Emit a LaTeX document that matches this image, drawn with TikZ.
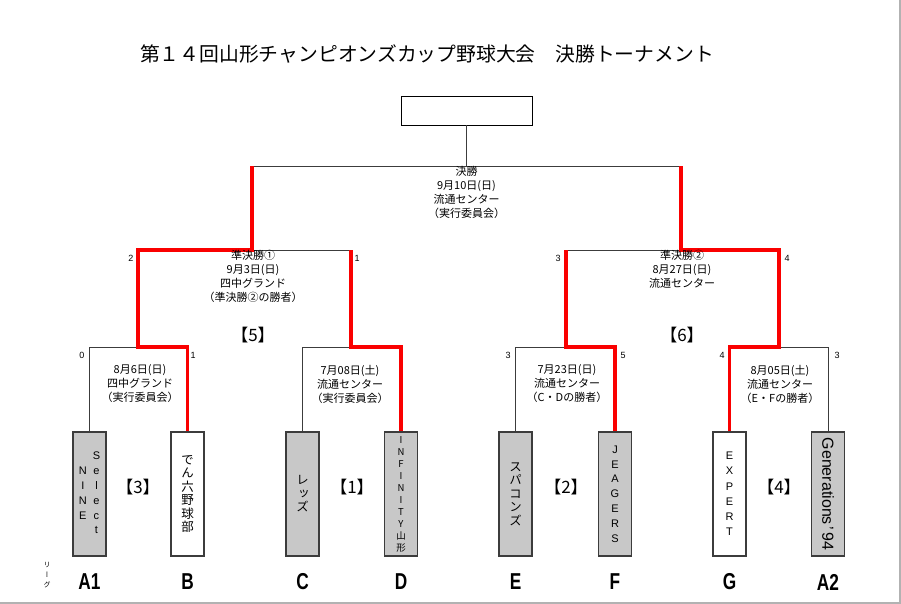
\documentclass[tikz,border=0pt]{standalone}
\usepackage{fontspec}
\usepackage{graphicx}
\setmainfont{Liberation Sans}
\newfontfamily\jp{Noto Sans CJK JP}
\newfontfamily\jpv[RawFeature=+vert]{Noto Sans CJK JP}% vertical forms
\usetikzlibrary{positioning}
\definecolor{winred}{RGB}{250,0,0}
\definecolor{boxgray}{RGB}{200,200,200}
\definecolor{linegray}{RGB}{60,60,60}
\tikzset{every node/.style={font=\jp\fontsize{11}{14}\selectfont, inner sep=0pt}}
\tikzset{
  team/.style={draw=linegray, line width=1.1pt, fill=white, minimum width=33pt,
    minimum height=124pt, align=center},
  teamg/.style={team, fill=boxgray},
  latin/.style={font=\fontsize{11}{14.8}\selectfont},
  tate/.style={font=\jpv\fontsize{12.5}{13.5}\selectfont},
  info/.style={align=center},
  score/.style={font=\fontsize{9}{9}\selectfont},
  pairlabel/.style={font=\jp\fontsize{17}{17}\selectfont},
  league/.style={font=\bfseries\fontsize{23}{23}\selectfont},
  bracket/.style={draw=linegray, line width=0.8pt},
  win/.style={draw=winred, line width=3.5pt}
}

\begin{document}
\begin{tikzpicture}[x=1pt,y=-1pt]
  \useasboundingbox (0,0) rectangle (901,604);
  \draw[gray!60, line width=1.5pt] (0,603) -- (900,603) -- (900,0);
  \node[font=\jp\fontsize{19.8}{20}\selectfont] (title) at (427,54)
    {第１４回山形チャンピオンズカップ野球大会　決勝トーナメント};
  \node[draw=black, line width=0.9pt, minimum width=131pt, minimum height=29pt]
    (champ) at (466.5,110.5) {};
  % teams
  \node[teamg, latin] (a1) at (89.5,494)
    {\begin{tabular}[c]{@{}c@{}}N\\I\\N\\E\end{tabular}\hspace{6pt}%
     \begin{tabular}[c]{@{}c@{}}S\\e\\l\\e\\c\\t\end{tabular}};
  \node[team, tate] (b) at (187.5,494) {で\\ん\\六\\野\\球\\部};
  \node[teamg, tate] (c) at (302.5,494) {レ\\ッ\\ズ};
  \node[teamg, font=\jp\fontsize{9.5}{12}\selectfont] (d) at (401,494)
    {I\\N\\F\\I\\N\\I\\T\\Y\\山\\形};
  \node[teamg, tate] (e) at (515.5,494) {ス\\パ\\コ\\ン\\ズ};
  \node[teamg, latin] (f) at (615,494) {J\\E\\A\\G\\E\\R\\S};
  \node[team, latin, font=\fontsize{11}{15.2}\selectfont] (g) at (729.5,494)
    {E\\X\\P\\E\\R\\T};
  \node[teamg, font=\fontsize{16}{16}\selectfont] (a2) at (828,494)
    {\rotatebox{-90}{Generations\hspace{2pt}’\hspace{2pt}94}};
  \foreach \n/\l in {a1/A1,b/B,c/C,d/D,e/E,f/F,g/G,a2/A2}
    \node[league] (l\n) at (\n.south |- 0,582) {\scalebox{0.75}[1]{\l}};
  \node[font=\jpv\fontsize{7}{10}\selectfont, align=center] (lg) at (47,575) {リ\\ー\\グ};
  % bracket
  \coordinate (q1) at (138,347);
  \coordinate (q2) at (351,347);
  \coordinate (q3) at (566,347);
  \coordinate (q4) at (779,347);
  \coordinate (s1) at (252,250);
  \coordinate (s2) at (681,250);
  \coordinate (fin) at (466.5,166);
  \draw[bracket] (a1.north) -- (a1.north |- q1) -- (q1);
  \draw[bracket] (c.north) -- (c.north |- q2) -- (q2);
  \draw[bracket] (e.north) -- (e.north |- q3) -- (q3);
  \draw[bracket] (a2.north) -- (a2.north |- q4) -- (q4);
  \draw[bracket] (s1) -- (q2 |- s1);
  \draw[bracket] (q3 |- s2) -- (s2);
  \draw[bracket] (s1 |- fin) -- (s2 |- fin);
  \draw[bracket] (fin) -- (champ.south);
  \draw[win] (b.north) -- (b.north |- q1) -- (q1) -- (q1 |- s1) -- (s1) -- (s1 |- fin);
  \draw[win] (d.north) -- (d.north |- q2) -- (q2) -- (q2 |- s1);
  \draw[win] (f.north) -- (f.north |- q3) -- (q3) -- (q3 |- s2);
  \draw[win] (g.north) -- (g.north |- q4) -- (q4) -- (q4 |- s2) -- (s2) -- (s2 |- fin);
  % scores
  \foreach \x/\y/\s [count=\i] in {82/355/0,193/355/1,508/355/3,623/355/5,722/355/4,
      837/355/3,131/258/2,357/258/1,558/258/3,787/258/4}
    \node[score] (sc\i) at (\x,\y) {\s};
  % match info
  \node[info] (finfo) at (466.5,192) {決勝\\9月10日(日)\\流通センター\\（実行委員会）};
  \node[info] (sinfo1) at (253,276.5) {準決勝①\\9月3日(日)\\四中グランド\\（準決勝②の勝者）};
  \node[info] (sinfo2) at (682,269.5) {準決勝②\\8月27日(日)\\流通センター};
  \node[info] (minfo1) at (140,384) {8月6日(日)\\四中グランド\\（実行委員会）};
  \node[info] (minfo2) at (350,384) {7月08日(土)\\流通センター\\（実行委員会）};
  \node[info] (minfo3) at (567,384) {7月23日(日)\\流通センター\\（C・Dの勝者）};
  \node[info] (minfo4) at (780,384) {8月05日(土)\\流通センター\\（E・Fの勝者）};
  \node[pairlabel] (p5) at (253,335) {【5】};
  \node[pairlabel] (p6) at (682,335) {【6】};
  \node[pairlabel] (p3) at (138,487) {【3】};
  \node[pairlabel] (p1) at (352,487) {【1】};
  \node[pairlabel] (p2) at (566,487) {【2】};
  \node[pairlabel] (p4) at (779,487) {【4】};
\end{tikzpicture}
\end{document}
